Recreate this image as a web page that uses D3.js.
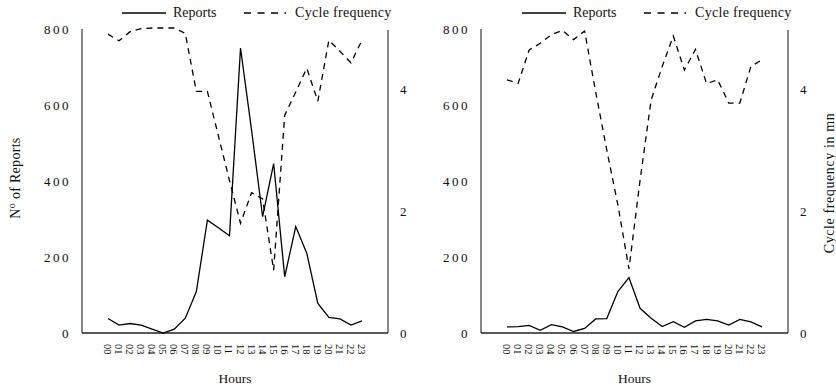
<!DOCTYPE html>
<html>
<head>
<meta charset="utf-8">
<script src="https://cdn.jsdelivr.net/npm/d3@7"></script>
<style>
  body { margin: 0; background: #fff; }
  svg text { font-family: "Liberation Serif", "DejaVu Serif", serif; fill: #111; }
</style>
</head>
<body>
<div id="chart-area"></div>
<script>
const width = 836, height = 389;

// Data
const hours = ["00","01","02","03","04","05","06","07","08","09","10","11",
               "12","13","14","15","16","17","18","19","20","21","22","23"];

const reportsLeft = [38, 21, 25, 21, 10, 0, 10, 39, 109, 297, 277, 256,
                     750, 534, 306, 446, 148, 280, 210, 78, 41, 37, 21, 32];
const cycleLeft = [4.90, 4.79, 4.94, 4.99, 5.0, 5.0, 5.0, 4.91, 3.96, 3.96, 3.23, 2.5,
                   1.8, 2.3, 2.2, 1.03, 3.57, 3.95, 4.34, 3.8, 4.8, 4.62, 4.43, 4.8];

const reportsRight = [16, 17, 20, 7, 22, 16, 4, 12, 37, 38, 109, 146,
                      65, 39, 17, 30, 15, 32, 36, 32, 21, 36, 29, 16];
const cycleRight = [4.15, 4.09, 4.64, 4.75, 4.89, 4.96, 4.81, 4.95, 3.95, 3.0, 2.1, 1.05,
                    2.5, 3.82, 4.37, 4.87, 4.31, 4.65, 4.09, 4.15, 3.77, 3.77, 4.37, 4.48];

const reportTicks = [0, 200, 400, 600, 800];
const cycleTicks = [0, 2, 4];

const svg = d3.select("#chart-area").append("svg")
    .attr("width", width)
    .attr("height", height);

const plotTop = 29, plotBottom = 333;

const y = d3.scaleLinear().domain([0, 800]).range([plotBottom, plotTop]);
const yc = d3.scaleLinear().domain([0, 5]).range([plotBottom, 28]);

function drawPanel(left, right, reports, cycle, showYLabel, showY2Label) {
    const g = svg.append("g");

    const x = d3.scalePoint()
        .domain(hours)
        .range([left + 26, right - 26]);

    // axes lines
    g.append("line")
        .attr("x1", left).attr("x2", left)
        .attr("y1", y(800)).attr("y2", plotBottom)
        .attr("stroke", "#555").attr("stroke-width", 1.4);
    g.append("line")
        .attr("x1", right).attr("x2", right)
        .attr("y1", yc(5) + 2).attr("y2", plotBottom)
        .attr("stroke", "#555").attr("stroke-width", 1.4);
    g.append("line")
        .attr("x1", left).attr("x2", right)
        .attr("y1", plotBottom).attr("y2", plotBottom)
        .attr("stroke", "#222").attr("stroke-width", 1.4);

    // left ticks
    g.selectAll(".yl")
        .data(reportTicks)
        .enter().append("text")
        .attr("x", left - 11)
        .attr("y", d => y(d))
        .attr("dy", "0.35em")
        .attr("text-anchor", "end")
        .style("font-size", "13px")
        .style("letter-spacing", "2.5px")
        .text(d => d);

    // right ticks
    g.selectAll(".yr")
        .data(cycleTicks)
        .enter().append("text")
        .attr("x", right + 12)
        .attr("y", d => yc(d))
        .attr("dy", "0.35em")
        .style("font-size", "13px")
        .text(d => d);

    // hour labels
    g.selectAll(".xl")
        .data(hours)
        .enter().append("text")
        .attr("transform", d => `translate(${x(d) - 4},${plotBottom + 11}) rotate(90)`)
        .style("font-size", "10.5px")
        .text(d => d);

    g.append("text")
        .attr("x", (left + right) / 2)
        .attr("y", 383)
        .attr("text-anchor", "middle")
        .style("font-size", "13.5px")
        .text("Hours");

    if (showYLabel) {
        const t = g.append("text")
            .attr("transform", "translate(20,178) rotate(-90)")
            .attr("text-anchor", "middle")
            .style("font-size", "14px")
            .style("letter-spacing", "0.3px");
        t.append("tspan").text("N");
        t.append("tspan").attr("baseline-shift", "super").style("font-size", "10px").text("o");
        t.append("tspan").text(" of Reports");
    }
    if (showY2Label) {
        g.append("text")
            .attr("transform", "translate(834,183) rotate(-90)")
            .attr("text-anchor", "middle")
            .style("font-size", "14px")
            .style("letter-spacing", "0.6px")
            .text("Cycle frequency in mn");
    }

    const line = d3.line()
        .x((d, i) => x(hours[i]))
        .y(d => y(d));
    const lineC = d3.line()
        .x((d, i) => x(hours[i]))
        .y(d => yc(d));

    g.append("path")
        .attr("d", line(reports))
        .attr("fill", "none")
        .attr("stroke", "#000")
        .attr("stroke-width", 1.3)
        .attr("stroke-linejoin", "miter");

    g.append("path")
        .attr("d", lineC(cycle))
        .attr("fill", "none")
        .attr("stroke", "#000")
        .attr("stroke-width", 1.3)
        .attr("stroke-dasharray", "6,5");

    return g;
}

function drawLegend(x0) {
    const g = svg.append("g");
    g.append("line")
        .attr("x1", x0).attr("x2", x0 + 44)
        .attr("y1", 13).attr("y2", 13)
        .attr("stroke", "#000").attr("stroke-width", 1.3);
    g.append("text")
        .attr("x", x0 + 51).attr("y", 17)
        .style("font-size", "14px")
        .text("Reports");
    g.append("line")
        .attr("x1", x0 + 122).attr("x2", x0 + 164)
        .attr("y1", 13).attr("y2", 13)
        .attr("stroke", "#000").attr("stroke-width", 1.3)
        .attr("stroke-dasharray", "7,6.5");
    g.append("text")
        .attr("x", x0 + 173).attr("y", 17)
        .style("font-size", "14px")
        .style("letter-spacing", "0.3px")
        .text("Cycle frequency");
}

drawPanel(82, 388, reportsLeft, cycleLeft, true, false);
drawPanel(481, 788, reportsRight, cycleRight, false, true);
drawLegend(122);
drawLegend(522);
</script>
</body>
</html>
